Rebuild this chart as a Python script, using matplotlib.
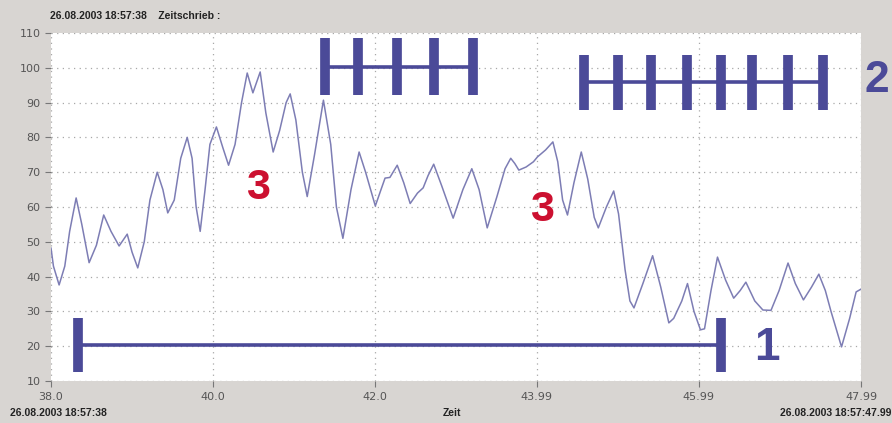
import matplotlib
matplotlib.use("Agg")
import matplotlib.pyplot as plt

# ---- data ----
t = [38.00, 38.03, 38.10, 38.17, 38.23, 38.31, 38.38, 38.47, 38.56, 38.65,
     38.74, 38.84, 38.94, 39.00, 39.07, 39.15, 39.22, 39.31, 39.38, 39.44,
     39.52, 39.60, 39.68, 39.74, 39.79, 39.84, 39.90, 39.96, 40.04, 40.12,
     40.19, 40.27, 40.35, 40.42, 40.49, 40.58, 40.65, 40.74, 40.82, 40.90,
     40.95, 41.02, 41.10, 41.16, 41.25, 41.36, 41.45, 41.52, 41.60, 41.70,
     41.80, 41.88, 42.00, 42.07, 42.12, 42.18, 42.27, 42.35, 42.43, 42.52,
     42.59, 42.65, 42.72, 42.82, 42.96, 43.08, 43.19, 43.28, 43.38, 43.50,
     43.60, 43.67, 43.72, 43.77, 43.86, 43.95, 44.00, 44.10, 44.19, 44.25,
     44.31, 44.37, 44.45, 44.54, 44.62, 44.70, 44.75, 44.85, 44.94, 45.00,
     45.08, 45.14, 45.19, 45.30, 45.42, 45.52, 45.62, 45.68, 45.78, 45.85,
     45.93, 46.01, 46.06, 46.14, 46.22, 46.32, 46.42, 46.50, 46.57, 46.68,
     46.78, 46.88, 46.98, 47.09, 47.18, 47.28, 47.38, 47.47, 47.55, 47.62,
     47.75, 47.85, 47.93, 47.99]
v = [48.2, 43.0, 37.6, 43.0, 53.0, 62.6, 55.0, 44.0, 49.0, 57.7,
     53.0, 48.8, 52.2, 47.0, 42.5, 50.0, 62.0, 70.0, 65.0, 58.3,
     62.0, 74.0, 80.0, 74.0, 60.0, 53.0, 65.0, 78.0, 83.0, 77.0,
     72.0, 78.0, 90.0, 98.5, 92.8, 98.8, 87.0, 75.8, 82.0, 90.0,
     92.5, 85.0, 70.0, 63.0, 75.0, 90.7, 78.0, 60.0, 51.0, 65.0,
     75.8, 70.0, 60.3, 65.0, 68.3, 68.5, 72.0, 67.0, 61.0, 64.0,
     65.5, 69.0, 72.3, 66.0, 56.8, 65.0, 71.0, 65.0, 54.0, 63.0,
     71.0, 74.0, 72.5, 70.6, 71.5, 73.0, 74.4, 76.4, 78.7, 73.0,
     62.0, 57.7, 67.0, 75.8, 68.0, 57.0, 54.0, 60.0, 64.6, 58.0,
     42.0, 33.0, 31.0, 38.0, 46.0, 37.0, 26.7, 28.0, 33.0, 38.0,
     30.0, 24.7, 25.0, 36.0, 45.6, 39.0, 33.8, 36.0, 38.4, 33.0,
     30.4, 30.3, 36.0, 43.9, 38.0, 33.3, 37.0, 40.7, 36.0, 30.0,
     19.8, 28.0, 35.6, 36.4]

x_ticks = [38.0, 40.0, 42.0, 43.99, 45.99, 47.99]
x_labels = ["38.0", "40.0", "42.0", "43.99", "45.99", "47.99"]
y_ticks = [10, 20, 30, 40, 50, 60, 70, 80, 90, 100, 110]

# annotation marks (data coords)
bar1_x = [38.33, 46.26]
bar1_y = 20.3
bar1_cap = [12.6, 28.1]
h1_x = [41.38, 41.79, 42.27, 42.72, 43.21]
h1_y = 100.2
h1_cap = [92.2, 108.6]
h2_x = [44.57, 44.99, 45.40, 45.85, 46.26, 46.65, 47.09, 47.52]
h2_y = 95.9
h2_cap = [87.9, 103.7]
labels3 = [(40.55, 65.5, "3"), (44.06, 59.0, "3")]

bg = "#d8d5d2"
navy = "#4b4a98"
line_c = "#7d7db4"

fig = plt.figure(figsize=(8.92, 4.23), dpi=100, facecolor=bg)
ax = fig.add_axes([51/892, 1-381/423, (861-51)/892, (381-33)/423])
ax.set_facecolor("white")

ax.plot(t, v, color=line_c, lw=1.1, zorder=3)

ax.set_xlim(38.0, 47.99)
ax.set_ylim(10, 110)
ax.set_xticks(x_ticks)
ax.set_xticklabels(x_labels)
ax.set_yticks(y_ticks)
ax.tick_params(axis="both", labelsize=8, colors="#777777", labelcolor="#555555",
               length=4, width=0.8, direction="out")
ax.tick_params(axis="x", pad=4)
ax.grid(True, color="#a8a8a8", linestyle=(0, (1, 3.5)), linewidth=0.9)
for s in ax.spines.values():
    s.set_visible(False)

# bar 1
ax.plot(bar1_x, [bar1_y, bar1_y], color=navy, lw=2.6, solid_capstyle="butt", zorder=4)
for xx in bar1_x:
    ax.plot([xx, xx], bar1_cap, color=navy, lw=7, solid_capstyle="butt", zorder=4)

# H-bar groups
for xs, yc, cap in [(h1_x, h1_y, h1_cap), (h2_x, h2_y, h2_cap)]:
    ax.plot([xs[0], xs[-1]], [yc, yc], color=navy, lw=2.6, solid_capstyle="butt", zorder=4)
    for xx in xs:
        ax.plot([xx, xx], cap, color=navy, lw=7, solid_capstyle="butt", zorder=4)

for xx, yy, s in labels3:
    ax.text(xx, yy, s, color="#cc1030", fontsize=31, fontweight="bold",
            ha="center", va="center", family="Liberation Sans", zorder=5)

ax.text(46.83, 19.5, "1", color=navy, fontsize=33, fontweight="bold",
        ha="center", va="center", family="Liberation Sans", zorder=5)
fig.text(877/892, 1-80/423, "2", color=navy, fontsize=32, fontweight="bold",
         ha="center", va="center", family="Liberation Sans")

hdr = dict(fontsize=7.5, fontweight="bold", family="Liberation Sans", color="#222222")
fig.text(50/892, 1-16/423, "26.08.2003 18:57:38    Zeitschrieb :", ha="left", va="center", **hdr)
fig.text(10/892, 1-413/423, "26.08.2003 18:57:38", ha="left", va="center", **hdr)
fig.text(452/892, 1-413/423, "Zeit", ha="center", va="center", **hdr)
fig.text(891/892, 1-413/423, "26.08.2003 18:57:47.99", ha="right", va="center", **hdr)

fig.savefig("out.png", dpi=100, facecolor=bg)
